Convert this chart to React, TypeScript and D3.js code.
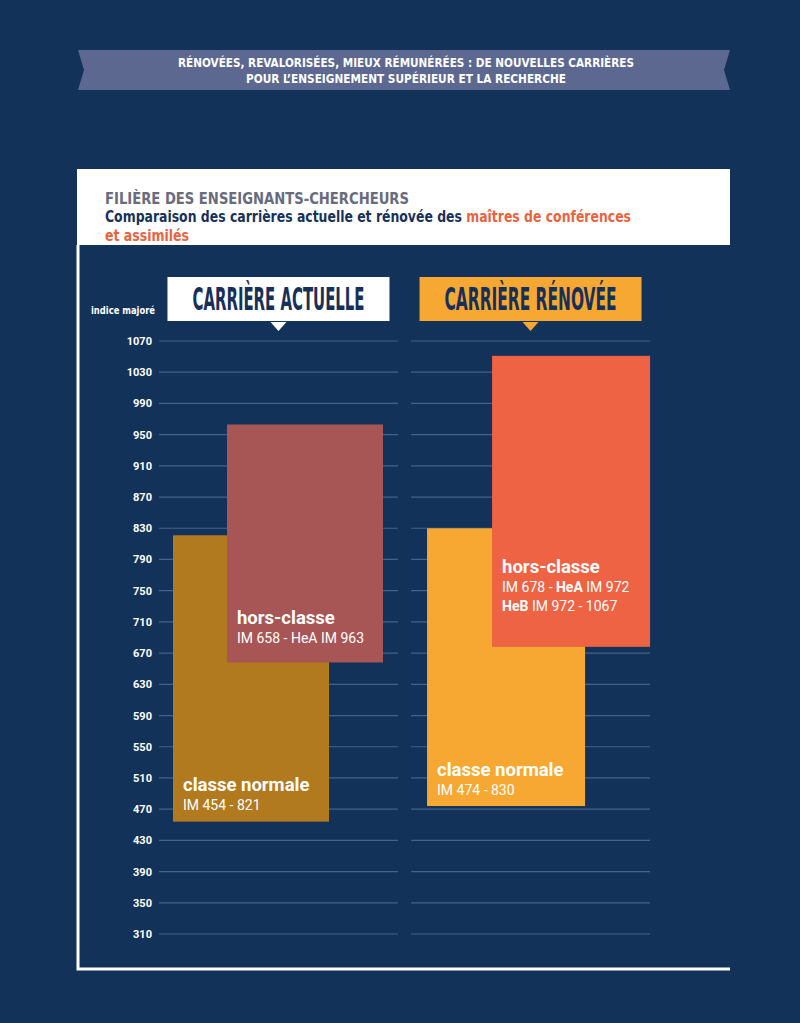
import { useEffect, useRef } from "react";
import * as d3 from "d3";

// tick labels of the "indice majoré" axis
const tickValues = [1070, 1030, 990, 950, 910, 870, 830, 790, 750, 710, 670, 630, 590, 550, 510, 470, 430, 390, 350, 310];

const careers = ["CARRIÈRE ACTUELLE", "CARRIÈRE RÉNOVÉE"];
const grades = ["classe normale", "hors-classe"];

// bar extents (indice majoré) as drawn
const actuelleMin = [454, 658];
const actuelleMax = [821, 963];
const renoveeMin = [474, 678];
const renoveeMax = [830, 1051];

// label lines under each grade name
const actuelleText = [["IM 454 - 821"], ["IM 658 - HeA IM 963"]];
const renoveeText = [["IM 474 - 830"], ["IM 678 - HeA IM 972", "HeB IM 972 - 1067"]];

const W = 800,
  H = 1023;
const navy = "#13325a";
const gridColor = "#44638c";
const headerFill = ["#ffffff", "#f6a833"];
const barColors = [
  ["#b17a1f", "#a85556"],
  ["#f6a833", "#ee6344"],
];
// layout tweaks per panel
const barOffset = [
  [14, 68],
  [16, 81],
];
const barWidth = [156, 158];
const labelPad = [
  [12, 19],
  [11, 36],
];
const narrow = "'Liberation Sans Narrow', 'DejaVu Sans Condensed', 'Roboto', sans-serif";
const roboto = "Roboto, 'Noto Sans', sans-serif";

function CareerChart() {
  const svgRef = useRef(null);

  const buildSVG = () => {
    const svg = d3.select(svgRef.current).attr("width", W).attr("height", H);
    svg.selectAll("*").remove();

    svg.append("rect").attr("width", W).attr("height", H).attr("fill", navy);

    // top ribbon
    svg
      .append("polygon")
      .attr("points", "78,50 730,50 724,70 730,90 78,90 84,70")
      .attr("fill", "#5d6890");
    const banner = [
      { t: "RÉNOVÉES, REVALORISÉES, MIEUX RÉMUNÉRÉES : DE NOUVELLES CARRIÈRES", y: 67, w: 456 },
      { t: "POUR L’ENSEIGNEMENT SUPÉRIEUR ET LA RECHERCHE", y: 83, w: 320 },
    ];
    svg
      .selectAll("text.banner")
      .data(banner)
      .enter()
      .append("text")
      .attr("x", 406)
      .attr("y", (d) => d.y)
      .attr("text-anchor", "middle")
      .attr("textLength", (d) => d.w)
      .attr("lengthAdjust", "spacingAndGlyphs")
      .style("font-family", narrow)
      .style("font-weight", "bold")
      .style("font-size", "12px")
      .attr("fill", "#ffffff")
      .text((d) => d.t);

    // title box
    svg.append("rect").attr("x", 77).attr("y", 169).attr("width", 653).attr("height", 76).attr("fill", "#ffffff");
    svg
      .append("text")
      .attr("transform", "translate(105,204) scale(1,1.1)")
      .attr("textLength", 304)
      .attr("lengthAdjust", "spacingAndGlyphs")
      .style("font-family", narrow)
      .style("font-weight", "bold")
      .style("font-size", "14.5px")
      .attr("fill", "#686b7e")
      .text("FILIÈRE DES ENSEIGNANTS-CHERCHEURS");
    const sub = svg
      .append("text")
      .attr("transform", "translate(105,222) scale(1,1.15)")
      .attr("textLength", 526)
      .attr("lengthAdjust", "spacingAndGlyphs")
      .style("font-family", narrow)
      .style("font-weight", "bold")
      .style("font-size", "13.5px");
    sub.append("tspan").attr("fill", "#17325a").text("Comparaison des carrières actuelle et rénovée des ");
    sub.append("tspan").attr("fill", "#e9633f").text("maîtres de conférences");
    svg
      .append("text")
      .attr("transform", "translate(105,241) scale(1,1.15)")
      .attr("textLength", 84)
      .attr("lengthAdjust", "spacingAndGlyphs")
      .style("font-family", narrow)
      .style("font-weight", "bold")
      .style("font-size", "13.5px")
      .attr("fill", "#e9633f")
      .text("et assimilés");

    // frame
    svg
      .append("path")
      .attr("d", "M78,245 V969 H730")
      .attr("fill", "none")
      .attr("stroke", "#ffffff")
      .attr("stroke-width", 3);

    const y = d3.scaleLinear().domain([310, 1070]).range([934, 341]);
    const x = d3.scaleBand().domain(careers).range([159, 650]).paddingInner(0.052);

    // axis title + tick labels
    svg
      .append("text")
      .attr("x", 91)
      .attr("y", 314)
      .attr("textLength", 64)
      .attr("lengthAdjust", "spacingAndGlyphs")
      .style("font-family", narrow)
      .style("font-weight", "bold")
      .style("font-size", "10px")
      .attr("fill", "#ffffff")
      .text("indice majoré");

    svg
      .selectAll("text.tick")
      .data(tickValues)
      .enter()
      .append("text")
      .attr("x", 152)
      .attr("y", (d) => y(d) + 4)
      .attr("text-anchor", "end")
      .style("font-family", roboto)
      .style("font-weight", "bold")
      .style("font-size", "11px")
      .attr("fill", "#ffffff")
      .text((d) => d);

    careers.forEach((c, p) => {
      const x0 = x(c) as number;
      const bw = x.bandwidth();
      const g = svg.append("g");

      g.selectAll("line")
        .data(tickValues)
        .enter()
        .append("line")
        .attr("x1", x0)
        .attr("x2", x0 + bw)
        .attr("y1", (d) => y(d))
        .attr("y2", (d) => y(d))
        .attr("stroke", gridColor)
        .attr("stroke-width", 1.2);

      // panel header
      const cx = x0 + bw / 2;
      g.append("rect")
        .attr("x", cx - 111)
        .attr("y", 277)
        .attr("width", 222)
        .attr("height", 44)
        .attr("fill", headerFill[p]);
      g.append("path")
        .attr("d", `M${cx - 8},322 L${cx + 8},322 L${cx},331 Z`)
        .attr("fill", headerFill[p]);
      g.append("text")
        .attr("transform", `translate(${cx},310) scale(1,1.75)`)
        .attr("text-anchor", "middle")
        .attr("textLength", 172)
        .attr("lengthAdjust", "spacingAndGlyphs")
        .style("font-family", narrow)
        .style("font-weight", "bold")
        .style("font-size", "18.5px")
        .attr("fill", "#17305a")
        .text(c);

      const mins = p === 0 ? actuelleMin : renoveeMin;
      const maxs = p === 0 ? actuelleMax : renoveeMax;
      const texts = p === 0 ? actuelleText : renoveeText;

      grades.forEach((gr, i) => {
        const bx = x0 + barOffset[p][i];
        g.append("rect")
          .attr("x", bx)
          .attr("y", y(maxs[i]))
          .attr("width", barWidth[p])
          .attr("height", y(mins[i]) - y(maxs[i]))
          .attr("fill", barColors[p][i]);

        const lines = texts[i];
        const last = y(mins[i]) - labelPad[p][i];
        const top = last - 19 * lines.length;
        g.append("text")
          .attr("x", bx + 10)
          .attr("y", top)
          .style("font-family", roboto)
          .style("font-weight", "bold")
          .style("font-size", "18.5px")
          .attr("fill", "#ffffff")
          .text(gr);
        lines.forEach((ln, k) => {
          const t = g
            .append("text")
            .attr("x", bx + 10)
            .attr("y", top + 19 * (k + 1))
            .style("font-family", roboto)
            .style("font-size", "14px")
            .attr("fill", "#ffffff");
          ln.split(" ").forEach((w, j) => {
            t.append("tspan")
              .style("font-weight", p === 1 && /^He[AB]$/.test(w) ? "bold" : "normal")
              .text((j > 0 ? " " : "") + w);
          });
        });
      });
    });
  };

  useEffect(buildSVG, []);

  return (
    <div style={{ position: "absolute", left: 0, top: 0 }}>
      <svg ref={svgRef}></svg>
    </div>
  );
}

export default function App() {
  return <CareerChart />;
}
